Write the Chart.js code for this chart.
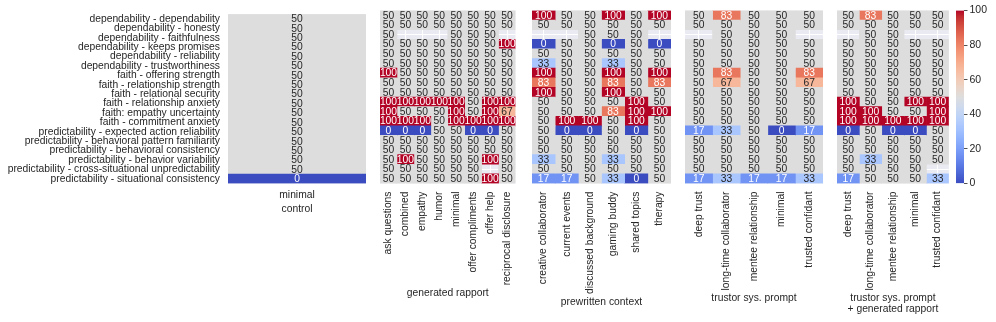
<!DOCTYPE html>
<html>
<head>
<meta charset="utf-8">
<script src="https://cdn.jsdelivr.net/npm/chart.js@4.4.1/dist/chart.umd.min.js"></script>
<style>
  html, body { margin: 0; padding: 0; background: #fff; }
  #wrap { position: relative; width: 996px; height: 322px; overflow: hidden; }
  #wrap canvas { position: absolute; top: 0; }
</style>
</head>
<body>
<div id="wrap">
  <canvas id="p0"></canvas>
  <canvas id="p1"></canvas>
  <canvas id="p2"></canvas>
  <canvas id="p3"></canvas>
  <canvas id="p4"></canvas>
  <canvas id="cbar"></canvas>
</div>
<script>
// ---- data ----
const rowLabels = [
  'dependability - dependability',
  'dependability - honesty',
  'dependability - faithfulness',
  'dependability - keeps promises',
  'dependability - reliability',
  'dependability - trustworthiness',
  'faith - offering strength',
  'faith - relationship strength',
  'faith - relational security',
  'faith - relationship anxiety',
  'faith: empathy uncertainty',
  'faith - commitment anxiety',
  'predictability - expected action reliability',
  'predictability - behavioral pattern familiarity',
  'predictability - behavioral consistency',
  'predictability - behavior variability',
  'predictability - cross-situational unpredictability',
  'predictability - situational consistency'
];

const controlCols = ['minimal'];
const controlValues = [
  [50], [50], [50], [50], [50], [50], [50], [50], [50],
  [50], [50], [50], [50], [50], [50], [50], [50], [0]
];

const rapportCols = ['ask questions', 'combined', 'empathy', 'humor', 'minimal',
  'offer compliments', 'offer help', 'reciprocal disclosure'];
const rapportValues = [
  [50, 50, 50, 50, 50, 50, 50, 50],
  [50, 50, 50, 50, 50, 50, 50, 50],
  [50, null, null, null, 50, 50, 50, null],
  [50, 50, 50, 50, 50, 50, 50, 100],
  [50, 50, 50, 50, 50, 50, 50, 50],
  [50, 50, 50, 50, 50, 50, 50, 50],
  [100, 50, 50, 50, 50, 50, 50, 50],
  [50, 50, 50, 50, 50, 50, 50, 50],
  [50, 50, 50, 50, 50, 50, 50, 50],
  [100, 100, 100, 100, 100, 50, 100, 100],
  [100, 50, 50, 50, 100, 50, 100, 67],
  [100, 100, 100, 50, 100, 100, 100, 100],
  [0, 0, 0, 50, 50, 0, 0, 50],
  [50, 50, 50, 50, 50, 50, 50, 50],
  [50, 50, 50, 50, 50, 50, 50, 50],
  [50, 100, 50, 50, 50, 50, 100, 50],
  [50, 50, 50, 50, 50, 50, null, 50],
  [50, 50, 50, 50, 50, 50, 100, 50]
];

const contextCols = ['creative collaborator', 'current events', 'discussed background',
  'gaming buddy', 'shared topics', 'therapy'];
const contextValues = [
  [100, 50, 50, 100, 50, 100],
  [50, 50, 50, 50, 50, 50],
  [null, null, 50, 50, 50, null],
  [0, 50, 50, 0, 50, 0],
  [50, 50, 50, 50, 50, 50],
  [33, 50, 50, 33, 50, 50],
  [100, 50, 50, 100, 50, 100],
  [83, 50, 50, 83, 50, 83],
  [100, 50, 50, 100, 50, 50],
  [50, 50, 50, 50, 100, 50],
  [50, 50, 50, 83, 100, 100],
  [50, 100, 100, 50, 100, 50],
  [50, 0, 0, 50, 0, 50],
  [50, 50, 50, 50, 50, 50],
  [50, 50, 50, 50, 50, 50],
  [33, 50, 50, 33, 50, 50],
  [50, 50, 50, 50, 50, 50],
  [17, 17, 50, 33, 0, 50]
];

const trustorCols = ['deep trust', 'long-time collaborator', 'mentee relationship', 'minimal', 'trusted confidant'];
const trustorValues = [
  [50, 83, 50, 50, 50],
  [50, 50, 50, 50, 50],
  [null, 50, 50, 50, null],
  [50, 50, 50, 50, 50],
  [50, 50, 50, 50, 50],
  [50, 50, 50, 50, 50],
  [50, 83, 50, 50, 83],
  [50, 67, 50, 50, 67],
  [50, 50, 50, 50, 50],
  [50, 50, 50, 50, 50],
  [50, 50, 50, 50, 50],
  [50, 50, 50, 50, 50],
  [17, 33, 50, 0, 17],
  [50, 50, 50, 50, 50],
  [50, 50, 50, 50, 50],
  [50, 50, 50, 50, 50],
  [50, 50, 50, 50, 50],
  [17, 33, 17, 17, 33]
];

const comboCols = ['deep trust', 'long-time collaborator', 'mentee relationship', 'minimal', 'trusted confidant'];
const comboValues = [
  [50, 83, 50, 50, 50],
  [50, 50, 50, 50, 50],
  [null, 50, 50, null, null],
  [50, 50, 50, 50, 50],
  [50, 50, 50, 50, 50],
  [50, 50, 50, 50, 50],
  [50, 50, 50, 50, 50],
  [50, 50, 50, 50, 50],
  [50, 50, 50, 50, 50],
  [100, 50, 50, 100, 100],
  [100, 100, 50, 50, 100],
  [100, 100, 100, 100, 100],
  [0, 50, 0, 0, 50],
  [50, 50, 50, 50, 50],
  [50, 50, 50, 50, 50],
  [50, 33, 50, 50, 50],
  [50, 50, 50, 50, null],
  [17, 50, 50, 50, 33]
];

const colorbarTicks = [0, 20, 40, 60, 80, 100];

// ---- styling ----
const H = 322;
const TOP = 10.5;
const BOTTOM = 183.5;
const FONT = { family: "'Liberation Sans', Arial, Helvetica, sans-serif", size: 10.3 };
const INK = '#262626';

// coolwarm lookup (Moreland)
const CW = [
  [59,76,192],[68,90,204],[77,104,215],[87,117,225],[98,130,234],[108,142,241],
  [119,154,247],[130,165,251],[141,176,254],[152,185,255],[163,194,255],[174,201,253],
  [184,208,249],[194,213,244],[204,217,238],[213,219,230],[221,221,221],[229,216,209],
  [236,211,197],[241,204,184],[245,196,172],[247,187,159],[247,177,147],[247,166,134],
  [244,154,123],[241,141,111],[236,127,99],[229,112,89],[222,96,77],[213,80,66],
  [203,62,56],[192,40,47],[180,4,38]
];
function cwRGB(v) {
  const t = Math.max(0, Math.min(1, v / 100)) * (CW.length - 1);
  const i = Math.min(Math.floor(t), CW.length - 2);
  const f = t - i;
  return CW[i].map((c, k) => Math.round(c + (CW[i + 1][k] - c) * f));
}
function cwColor(v) {
  const [r, g, b] = cwRGB(v);
  return `rgb(${r},${g},${b})`;
}
function textColor(v) {
  const lin = c => { c /= 255; return c <= 0.03928 ? c / 12.92 : Math.pow((c + 0.055) / 1.055, 2.4); };
  const [r, g, b] = cwRGB(v);
  const L = 0.2126 * lin(r) + 0.7152 * lin(g) + 0.0722 * lin(b);
  return L < 0.408 ? '#ffffff' : INK;
}

const bgPlugin = {
  id: 'bg',
  beforeDraw(chart) {
    const a = chart.chartArea;
    const ctx = chart.ctx;
    ctx.save();
    ctx.fillStyle = '#eaeaf2';
    ctx.fillRect(a.left, a.top, a.right - a.left, a.bottom - a.top);
    ctx.restore();
  }
};

const annotPlugin = {
  id: 'annot',
  afterDatasetsDraw(chart) {
    const ctx = chart.ctx;
    ctx.save();
    ctx.font = `${FONT.size}px ${FONT.family}`;
    ctx.textAlign = 'center';
    ctx.textBaseline = 'middle';
    chart.data.datasets.forEach((ds, di) => {
      const meta = chart.getDatasetMeta(di);
      meta.data.forEach((el, i) => {
        const v = ds.cellValues[i];
        if (v == null) return;
        const p = el.getProps(['x', 'y', 'base'], true);
        ctx.fillStyle = textColor(v);
        ctx.fillText(String(v), (p.x + p.base) / 2, p.y + 0.5);
      });
    });
    ctx.restore();
  }
};

function heatPanel(id, cols, values, o) {
  const canvas = document.getElementById(id);
  canvas.width = o.w;
  canvas.height = H;
  canvas.style.left = o.x + 'px';

  const datasets = cols.map((c, ci) => ({
    label: c,
    data: values.map(r => r[ci] == null ? null : [ci, ci + 1]),
    cellValues: values.map(r => r[ci]),
    backgroundColor: values.map(r => r[ci] == null ? 'rgba(0,0,0,0)' : cwColor(r[ci])),
    borderWidth: 0,
    grouped: false,
    barPercentage: 1,
    categoryPercentage: 1
  }));

  return new Chart(canvas, {
    type: 'bar',
    data: { labels: rowLabels, datasets },
    options: {
      indexAxis: 'y',
      responsive: false,
      animation: false,
      layout: { padding: { left: o.padL, right: o.padR, top: TOP, bottom: 0 } },
      plugins: { legend: { display: false }, tooltip: { enabled: false } },
      scales: {
        x: {
          type: 'linear',
          position: 'bottom',
          min: 0,
          max: cols.length,
          afterBuildTicks: s => { s.ticks = cols.map((c, i) => ({ value: i + 0.5 })); },
          afterFit: s => { s.height = H - BOTTOM; },
          ticks: {
            callback: (v, i) => cols[i],
            autoSkip: false,
            minRotation: o.rot,
            maxRotation: o.rot,
            padding: o.tickPad,
            font: FONT,
            color: INK
          },
          grid: { color: '#ffffff', drawTicks: false },
          border: { display: false },
          title: {
            display: true,
            text: o.title,
            padding: { top: 0, bottom: o.titlePad },
            font: Object.assign({}, FONT, { lineHeight: 1.1 }),
            color: INK
          }
        },
        y: {
          type: 'category',
          offset: true,
          afterFit: s => { s.width = o.yW; },
          ticks: { display: o.showRows, autoSkip: false, padding: 8, font: FONT, color: INK },
          grid: { color: '#ffffff', offset: false, drawTicks: false },
          border: { display: false }
        }
      }
    },
    plugins: [bgPlugin, annotPlugin]
  });
}

heatPanel('p0', controlCols, controlValues,
  { x: 0, w: 370, padL: 0, padR: 4, yW: 228, showRows: true, rot: 0, tickPad: 5, title: 'control', titlePad: 107 });
heatPanel('p1', rapportCols, rapportValues,
  { x: 370, w: 158, padL: 10, padR: 10, yW: 0, showRows: false, rot: 90, tickPad: 8, title: 'generated rapport', titlePad: 23 });
heatPanel('p2', contextCols, contextValues,
  { x: 522, w: 159, padL: 10, padR: 10, yW: 0, showRows: false, rot: 90, tickPad: 8, title: 'prewritten context', titlePad: 14 });
heatPanel('p3', trustorCols, trustorValues,
  { x: 675, w: 158, padL: 10, padR: 10, yW: 0, showRows: false, rot: 90, tickPad: 8, title: 'trustor sys. prompt', titlePad: 18 });
heatPanel('p4', comboCols, comboValues,
  { x: 827, w: 132, padL: 10, padR: 10, yW: 0, showRows: false, rot: 90, tickPad: 8,
    title: ['trustor sys. prompt', '+ generated rapport'], titlePad: 7 });

// ---- colorbar ----
(function () {
  const canvas = document.getElementById('cbar');
  canvas.width = 56;
  canvas.height = H;
  canvas.style.left = '940px';
  new Chart(canvas, {
    type: 'bar',
    data: {
      labels: [''],
      datasets: [{
        data: [[colorbarTicks[0], colorbarTicks[colorbarTicks.length - 1]]],
        borderWidth: 0,
        barPercentage: 1,
        categoryPercentage: 1,
        backgroundColor: ctx => {
          const chart = ctx.chart;
          const ys = chart.scales.y;
          if (!chart.chartArea || !ys) return cwColor(50);
          const g = chart.ctx.createLinearGradient(0, ys.getPixelForValue(0), 0, ys.getPixelForValue(100));
          CW.forEach((c, i) => g.addColorStop(i / (CW.length - 1), `rgb(${c[0]},${c[1]},${c[2]})`));
          return g;
        }
      }]
    },
    options: {
      responsive: false,
      animation: false,
      layout: { padding: { left: 16, right: 0, top: TOP, bottom: H - BOTTOM } },
      plugins: { legend: { display: false }, tooltip: { enabled: false } },
      scales: {
        x: { display: false },
        y: {
          position: 'right',
          min: 0,
          max: 100,
          afterFit: s => { s.width = 32; },
          afterBuildTicks: s => { s.ticks = colorbarTicks.map(v => ({ value: v })); },
          ticks: { padding: 2, font: { family: FONT.family, size: 10.5 }, color: INK },
          grid: { drawOnChartArea: false, drawTicks: true, tickLength: 3.5, tickColor: INK, tickWidth: 0.8 },
          border: { display: false }
        }
      }
    }
  });
})();
</script>
</body>
</html>
